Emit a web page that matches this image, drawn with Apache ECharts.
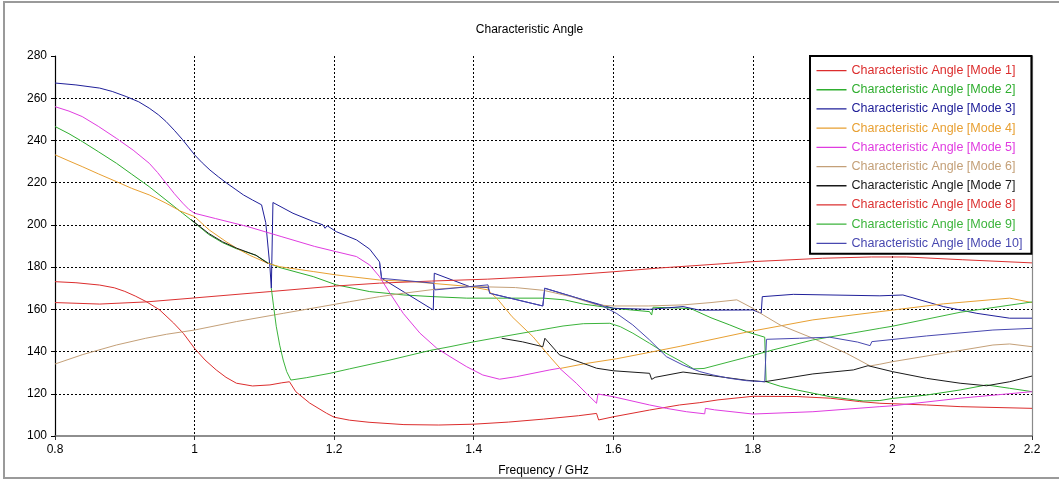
<!DOCTYPE html>
<html>
<head>
<meta charset="utf-8">
<script src="https://cdn.jsdelivr.net/npm/echarts@6/dist/echarts.min.js"></script>
<style>
  html, body { margin: 0; padding: 0; background: #ffffff; }
  #chart { width: 1059px; height: 486px; }
</style>
</head>
<body>
<div id="chart"></div>
<script>
// Characteristic angle (degrees) versus frequency (GHz) for the first ten characteristic modes.
const xTicks = [0.8, 1.0, 1.2, 1.4, 1.6, 1.8, 2.0, 2.2];
const yTicks = [100, 120, 140, 160, 180, 200, 220, 240, 260, 280];

const modeNames = [
  'Characteristic Angle [Mode 1]', 'Characteristic Angle [Mode 2]', 'Characteristic Angle [Mode 3]',
  'Characteristic Angle [Mode 4]', 'Characteristic Angle [Mode 5]', 'Characteristic Angle [Mode 6]',
  'Characteristic Angle [Mode 7]', 'Characteristic Angle [Mode 8]', 'Characteristic Angle [Mode 9]',
  'Characteristic Angle [Mode 10]'
];
const modeColors = ['#dc2d2d', '#2fae2f', '#20209a', '#e8a032', '#e03ce0',
                    '#c4a078', '#1a1a1a', '#dc3232', '#3cb43c', '#4848b0'];

// [frequency, angle] pairs; null marks frequencies where a mode is not plotted.
const mode1 = [[0.80,173.1],[0.83,172.6],[0.864,171.5],[0.885,170.2],[0.90,168.5],[0.915,166.3],[0.931,163.6],
  [0.95,159.7],[0.97,153.5],[0.984,148.6],[1.0,141.5],[1.015,136],[1.031,131.3],[1.045,127.8],[1.06,125],
  [1.083,123.7],[1.108,124.2],[1.125,125.2],[1.136,125.7],[1.145,121],[1.165,115.6],[1.189,110.8],[1.2,108.9],
  [1.222,107.5],[1.25,106.5],[1.3,105.4],[1.35,105.2],[1.4,105.6],[1.45,106.6],[1.5,108.0],[1.55,109.6],
  [1.576,110.7],[1.579,107.6],[1.6,109.1],[1.652,112.3],[1.695,114.7],[1.724,115.8],[1.75,117.1],[1.8,118.8],
  [1.863,118.7],[1.911,117.9],[1.953,116.3],[1.982,115.5],[2.049,114.7],[2.097,113.9],[2.2,113.1]];

const mode2 = [[0.8,246.6],[0.82,243.2],[0.839,239.5],[0.862,234.7],[0.888,229.2],[0.91,224],[0.935,218.1],
  [0.959,211.8],[0.983,205.5],[1.0,201],[1.02,195.5],[1.04,191.6],[1.06,188.7],[1.088,185.6],[1.105,182],
  [1.122,179.8],[1.17,175.5],[1.203,171.6],[1.251,168.4],[1.3,166.8],[1.342,166],[1.39,165.3],[1.5,165.3],
  [1.53,164.5],[1.557,162.5],[1.6,160.5],[1.652,158.9],[1.655,157.3],[1.657,161],[1.70,160.5],[1.712,160.2],
  [1.74,156],[1.767,152.6],[1.791,149.4],[1.817,146.8],[1.819,125.7],[1.84,123.5],[1.863,121.8],[1.911,118.6],
  [1.958,116.6],[1.982,116.8],[2.0,117.8],[2.049,119.4],[2.097,121.8],[2.135,124.2],[2.168,122.6],[2.2,121]];

const mode3 = [[0.8,267.2],[0.83,266.3],[0.864,264.8],[0.882,263.2],[0.902,260.8],[0.92,258.3],[0.935,255.3],
  [0.948,252.2],[0.959,249],[0.971,244.8],[0.983,240.3],[1.0,233.2],[1.011,229.4],[1.022,226],[1.034,222.8],
  [1.046,219.8],[1.058,217],[1.07,214.2],[1.083,211.8],[1.096,209.5],[1.102,201],[1.108,180],[1.110,170],
  [1.1123,210.6],[1.141,205.5],[1.17,201.6],[1.184,200],[1.187,198.4],[1.19,199.6],[1.203,196.8],[1.232,192.9],
  [1.251,188.5],[1.265,182.5],[1.268,174.7],[1.342,159.7],[1.3435,177.1],[1.394,170.8],[1.4205,170.3],
  [1.423,167.6],[1.499,161.6],[1.5018,170],[1.557,164.5],[1.6,160.5],[1.652,160],[1.70,161.3],[1.724,159.6],
  [1.80,159.7],[1.812,158.1],[1.8135,166],[1.858,167.1],[1.982,166.4],[2.015,166.8],[2.073,161.3],
  [2.121,158.1],[2.168,155.8],[2.2,155.8]];

const mode4 = [[0.8,233.2],[0.82,230.3],[0.839,227.6],[0.862,224.2],[0.888,220.5],[0.91,217.3],[0.935,214.2],
  [0.959,210.3],[0.98,206.5],[1.0,203.9],[1.021,197.6],[1.045,192.1],[1.06,189],[1.079,185.6],[1.105,181.8],
  [1.122,180.2],[1.17,177.9],[1.203,176.3],[1.265,173.9],[1.313,173.1],[1.394,170.8],[1.4205,169.2],
  [1.435,164.5],[1.455,156.5],[1.485,147],[1.509,137.6],[1.524,132],[1.56,134.3],[1.605,136.6],[1.65,139.5],
  [1.696,142.5],[1.724,144.5],[1.791,149.2],[1.886,155],[1.982,158.9],[2.073,162.6],[2.168,165.3],[2.2,163.2]];

const mode5 = [[0.8,256],[0.82,253.9],[0.839,251.3],[0.862,246.7],[0.888,241],[0.912,235.4],[0.935,229.2],
  [0.947,224.8],[0.959,219.8],[0.971,214.8],[0.983,210.3],[0.992,207.3],[1.0,205.5],[1.03,203],[1.076,199.2],
  [1.124,194.5],[1.172,189.8],[1.203,187.3],[1.232,185],[1.251,181],[1.265,175.5],[1.28,167.6],[1.299,158.1],
  [1.323,148.7],[1.347,141.6],[1.366,137.6],[1.39,132.8],[1.413,128.9],[1.437,126.9],[1.461,128.1],
  [1.509,131.3],[1.523,132.1],[1.547,125],[1.562,120],[1.576,115.5],[1.578,119.9],[1.6,118.6],[1.652,114.7],
  [1.676,113.1],[1.705,111.5],[1.731,110.5],[1.732,113.1],[1.745,112.4],[1.8,110.4],[1.886,111.5],
  [1.982,113.9],[2.0,114.3],[2.097,117.9],[2.2,121]];

const mode6 = [[0.8,134.1],[0.84,138.6],[0.888,143.1],[0.93,146.3],[0.96,148.2],[1.0,150.2],[1.06,154.2],
  [1.127,158.1],[1.222,163.6],[1.265,166],[1.299,167.6],[1.347,169.6],[1.399,170.8],[1.46,170.3],[1.5,169],
  [1.54,166],[1.576,162.1],[1.6,161.6],[1.65,161.6],[1.70,162.1],[1.74,163.2],[1.777,164.5],[1.80,160.5],
  [1.815,157.3],[1.839,152.6],[1.886,146.3],[1.934,139.2],[1.968,133.2],[1.982,134],[2.0,135.2],[2.073,139.2],
  [2.144,143.1],[2.168,143.6],[2.2,142.3]];

const mode7 = [[0.995,202.5],[1.02,196],[1.04,192],[1.06,189],[1.088,185.6],[1.105,181.8],[1.2,null],
  [1.44,146.3],[1.47,144.6],[1.499,142.3],[1.502,146.3],[1.523,138.4],[1.557,134.4],[1.576,132.1],[1.6,130.9],
  [1.652,129.7],[1.655,126.8],[1.66,127.8],[1.70,130.3],[1.743,128.5],[1.791,126.4],[1.817,125.7],
  [1.886,129.4],[1.944,131.3],[1.965,133.3],[2.0,130.5],[2.049,127.3],[2.097,125],[2.135,123.8],
  [2.168,125.7],[2.2,128.4]];

const mode8 = [[0.8,163.2],[0.864,162.5],[0.93,163.5],[1.0,165.4],[1.108,168.4],[1.2,171],[1.265,172.4],
  [1.34,173.4],[1.42,174.3],[1.538,176.3],[1.6,177.8],[1.667,179.6],[1.73,181],[1.8,182.6],[1.9,184.2],
  [1.97,184.8],[2.02,184.8],[2.1,183.5],[2.2,182]];

const mode9 = [[1.110,170],[1.113,162],[1.117,152],[1.122,143],[1.127,136],[1.132,130.5],[1.138,126.5],
  [1.16,127.6],[1.194,129.7],[1.222,131.8],[1.28,136],[1.337,140.5],[1.366,142.3],[1.40,144.6],[1.44,147],
  [1.49,149.9],[1.528,152.1],[1.557,153.2],[1.595,153.4],[1.61,151.8],[1.628,148.7],[1.652,143.9],
  [1.671,140],[1.70,134.8],[1.715,131.8],[1.73,132],[1.791,137.3],[1.829,140.8],[1.886,145.5],[1.982,151],
  [2.0,152],[2.097,158.6],[2.2,163.5]];

const mode10 = [[1.265,182.5],[1.268,174.7],[1.342,172.4],[1.3445,169.2],[1.4205,171.6],[1.423,167.6],
  [1.499,161.6],[1.5018,170],[1.557,164.5],[1.585,161.5],[1.605,158],[1.628,152.6],[1.652,145.5],
  [1.676,137.6],[1.70,133.6],[1.724,130.5],[1.743,128.9],[1.767,127.3],[1.791,126.2],[1.817,125.7],
  [1.8195,145.8],[1.867,146.3],[1.91,146.8],[1.95,144.5],[1.968,142.8],[1.9705,144.7],[2.049,147.4],
  [2.144,150.2],[2.2,151]];

const modeData = [mode1, mode2, mode3, mode4, mode5, mode6, mode7, mode8, mode9, mode10];

const FONT = "'Liberation Sans', Arial, sans-serif";
// Legend key: a thin horizontal stroke across a 30x14 box (corner specks only fix the box size).
const LEGEND_LINE = 'path://M0,0h0.01v0.01h-0.01z M0,6.4h30v1.3h-30z M29.99,13.99h0.01v0.01h-0.01z';

const chart = echarts.init(document.getElementById('chart'), null, { renderer: 'canvas' });

const series = modeData.map((d, i) => ({
  name: modeNames[i],
  type: 'line',
  data: d,
  symbol: 'none',
  showSymbol: false,
  connectNulls: false,
  lineStyle: { width: 1, color: modeColors[i] },
  itemStyle: { color: modeColors[i] },
  emphasis: { disabled: true },
  z: 2 + i * 0.01
}));

chart.setOption({
  animation: false,
  backgroundColor: '#ffffff',
  title: {
    text: 'Characteristic Angle',
    left: 'center',
    top: 24,
    padding: 0,
    textStyle: { fontFamily: FONT, fontSize: 12, fontWeight: 'normal', color: '#000' }
  },
  legend: {
    orient: 'vertical',
    left: 810,
    top: 56,
    padding: [7.5, 9, 3.5, 6.5],
    icon: LEGEND_LINE,
    itemWidth: 30,
    itemHeight: 14,
    itemGap: 5.2,
    backgroundColor: '#ffffff',
    borderColor: '#000000',
    borderWidth: 2,
    borderRadius: 0,
    selectedMode: false,
    textStyle: { fontFamily: FONT, fontSize: 12.5, lineHeight: 14 },
    data: modeNames.map((n, i) => ({ name: n, textStyle: { color: modeColors[i] } }))
  },
  grid: { left: 55, right: 27, top: 56, bottom: 50, containLabel: false },
  xAxis: {
    type: 'value',
    min: xTicks[0],
    max: xTicks[xTicks.length - 1],
    interval: 0.2,
    name: 'Frequency / GHz',
    nameLocation: 'middle',
    nameGap: 29,
    nameTextStyle: { fontFamily: FONT, fontSize: 12, color: '#000' },
    axisLine: { onZero: false, lineStyle: { color: '#6a6a6a', width: 1.5 } },
    axisTick: { show: true, inside: false, length: 4, lineStyle: { color: '#333' } },
    axisLabel: {
      fontFamily: FONT, fontSize: 12, color: '#000', margin: 8,
      formatter: v => String(Number(v.toFixed(1)))
    },
    splitLine: { show: true, showMinLine: false, showMaxLine: false,
      lineStyle: { color: '#000', width: 1, type: [2, 2] } }
  },
  yAxis: [{
    type: 'value',
    min: yTicks[0],
    max: yTicks[yTicks.length - 1],
    interval: 20,
    axisLine: { show: true, lineStyle: { color: '#000', width: 1.2 } },
    axisTick: { show: true, inside: false, length: 4, lineStyle: { color: '#000' } },
    axisLabel: { fontFamily: FONT, fontSize: 12, color: '#000', margin: 8 },
    splitLine: { show: true, showMinLine: false, showMaxLine: false,
      lineStyle: { color: '#000', width: 1, type: [2, 2] } }
  }, {
    type: 'value',
    position: 'right',
    min: yTicks[0],
    max: yTicks[yTicks.length - 1],
    axisLine: { show: true, lineStyle: { color: '#8a8a8a', width: 1.2 } },
    axisTick: { show: false },
    axisLabel: { show: false },
    splitLine: { show: false }
  }],
  graphic: [
    { type: 'rect', silent: true, z: 0,
      shape: { x: 4, y: 2, width: 1060, height: 476 },
      style: { fill: 'none', stroke: '#9a9a9a', lineWidth: 2 } }
  ],
  series: series
});
</script>
</body>
</html>
